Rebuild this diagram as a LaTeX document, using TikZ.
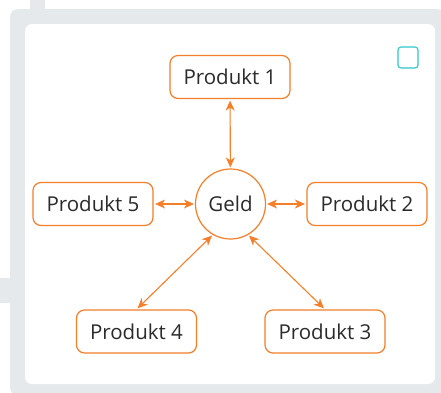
\documentclass[tikz,border=0pt]{standalone}
\usepackage{fontspec}
\setmainfont{Open Sans}
\usetikzlibrary{arrows.meta}
\definecolor{frame}{HTML}{E5E9EC}
\definecolor{org}{HTML}{F47F2A}
\definecolor{teal}{HTML}{2EC7C7}
\definecolor{txt}{HTML}{2B2B2B}
\tikzset{
  prod/.style={draw=org, line width=1.2pt, rounded corners=8pt, fill=white,
    minimum width=120pt, minimum height=43pt, inner sep=0pt,
    font=\fontsize{20.5}{24}\selectfont, text=txt},
  hub/.style={draw=org, line width=1.2pt, circle, minimum size=70pt, inner sep=0pt,
    font=\fontsize{20.5}{24}\selectfont, text=txt},
  link/.style={draw=org, line width=1.1pt,
    {Stealth[length=10pt,width=9pt,inset=3pt]}-{Stealth[length=10pt,width=9pt,inset=3pt]},
    shorten <=1pt, shorten >=1.5pt}
}
\begin{document}
\begin{tikzpicture}[x=1pt,y=-1pt]
\useasboundingbox (0,0) rectangle (441,392);
\fill[white] (0,0) rectangle (441,392);
% grey frame
\fill[frame, rounded corners=8pt] (10,395) -- (10,9) -- (445,9) -- (445,395) -- cycle;
\fill[frame] (30,0) rectangle (45,10);
\fill[frame] (0,278) rectangle (11,303);
\fill[white, rounded corners=7pt] (25,24) rectangle (435,384);
% teal square
\draw[teal, line width=1.1pt, rounded corners=3pt] (398,47) rectangle (418,68);
% nodes
\node[hub] (geld) at (230.5,204) {Geld};
\node[prod] (p1) at (230,77) {Produkt 1};
\node[prod] (p2) at (367,204) {Produkt 2};
\node[prod] (p3) at (325,331.5) {Produkt 3};
\node[prod] (p4) at (136.5,331.5) {Produkt 4};
\node[prod] (p5) at (93,204) {Produkt 5};
% links
\draw[link] (geld) -- (p1);
\draw[link] (geld) -- (p2);
\draw[link] (geld.300) -- (p3.north);
\draw[link] (geld.240) -- (p4.north);
\draw[link] (geld) -- (p5);
\end{tikzpicture}
\end{document}
